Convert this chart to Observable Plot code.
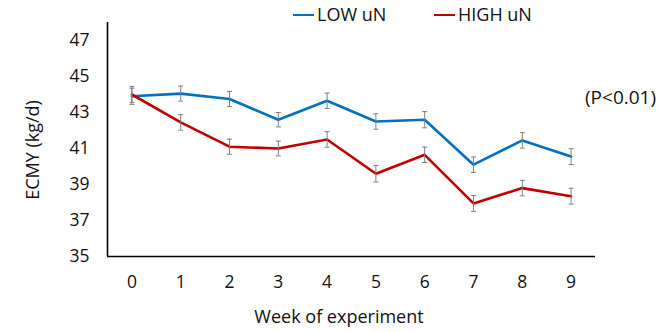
<!DOCTYPE html>
<html>
<head>
<meta charset="utf-8">
<script src="https://cdn.jsdelivr.net/npm/d3@7"></script>
<script src="https://cdn.jsdelivr.net/npm/@observablehq/plot@0.6"></script>
<style>
  body { margin: 0; background: #fff; }
  #wrap { position: relative; width: 669px; height: 332px; font-family: "Open Sans", sans-serif; color: #111; }
  .t { position: absolute; white-space: nowrap; font-size: 18px; line-height: 1; }
  .sw { position: absolute; height: 2px; width: 21px; }
</style>
</head>
<body>
<div id="wrap"></div>
<script>
const weeks = [0, 1, 2, 3, 4, 5, 6, 7, 8, 9];
const lowUN = [43.9, 44.05, 43.75, 42.6, 43.65, 42.5, 42.6, 40.1, 41.45, 40.55];
const lowErr = [0.45, 0.42, 0.42, 0.4, 0.43, 0.43, 0.45, 0.43, 0.43, 0.44];
const highUN = [44.0, 42.45, 41.1, 41.0, 41.5, 39.6, 40.65, 37.95, 38.8, 38.35];
const highErr = [0.45, 0.43, 0.42, 0.41, 0.43, 0.46, 0.43, 0.44, 0.43, 0.44];
const yTicks = [35, 37, 39, 41, 43, 45, 47];
const seriesNames = ["LOW uN", "HIGH uN"];
const seriesColors = ["#0070C0", "#C00000"];

const rows = [];
weeks.forEach((w, i) => {
  rows.push({week: w, value: lowUN[i], err: lowErr[i], series: seriesNames[0]});
  rows.push({week: w, value: highUN[i], err: highErr[i], series: seriesNames[1]});
});

const cap = {draw(ctx) { ctx.moveTo(-2.5, 0); ctx.lineTo(2.5, 0); }};

const chart = Plot.plot({
  width: 669,
  height: 332,
  marginLeft: 107,
  marginRight: 74,
  marginTop: 22,
  marginBottom: 76,
  style: {fontFamily: "Open Sans, sans-serif", fontSize: "17.5px", color: "#111", background: "#fff"},
  x: {domain: [-0.5, 9.5], ticks: weeks, tickSize: 0, tickPadding: 19, tickFormat: d => String(d), label: null},
  y: {domain: [35, 48], ticks: yTicks, tickSize: 0, tickPadding: 18, label: null},
  color: {domain: seriesNames, range: seriesColors},
  marks: [
    Plot.ruleY([35], {stroke: "#000", strokeWidth: 1.6}),
    Plot.ruleX([-0.5], {stroke: "#000", strokeWidth: 1.6}),
    Plot.line(rows, {x: "week", y: "value", z: "series", stroke: "series", strokeWidth: 2.6}),
    Plot.ruleX(rows, {x: "week", y1: d => d.value - d.err, y2: d => d.value + d.err, stroke: "#7f7f7f", strokeWidth: 1}),
    Plot.dot(rows, {x: "week", y: d => d.value - d.err, symbol: cap, stroke: "#7f7f7f", strokeWidth: 1, r: 3}),
    Plot.dot(rows, {x: "week", y: d => d.value + d.err, symbol: cap, stroke: "#7f7f7f", strokeWidth: 1, r: 3})
  ]
});

const wrap = document.getElementById("wrap");
chart.style.position = "absolute";
chart.style.left = "0";
chart.style.top = "0";
wrap.appendChild(chart);

function addText(txt, left, top, extra) {
  const d = document.createElement("div");
  d.className = "t";
  d.textContent = txt;
  d.style.left = left + "px";
  d.style.top = top + "px";
  if (extra) Object.assign(d.style, extra);
  wrap.appendChild(d);
  return d;
}
function addSwatch(color, left, top) {
  const s = document.createElement("div");
  s.className = "sw";
  s.style.background = color;
  s.style.left = left + "px";
  s.style.top = top + "px";
  wrap.appendChild(s);
}
addSwatch(seriesColors[0], 293, 14);
addText(seriesNames[0], 317, 5);
addSwatch(seriesColors[1], 434, 14);
addText(seriesNames[1], 458, 5);
addText("(P<0.01)", 585, 88, {fontSize: "19px"});
addText("Week of experiment", 339, 307, {transform: "translateX(-50%)"});
addText("ECMY (kg/d)", 32, 150, {transform: "translate(-50%, -50%) rotate(-90deg)", left: "32px", top: "150px"});
</script>
</body>
</html>
